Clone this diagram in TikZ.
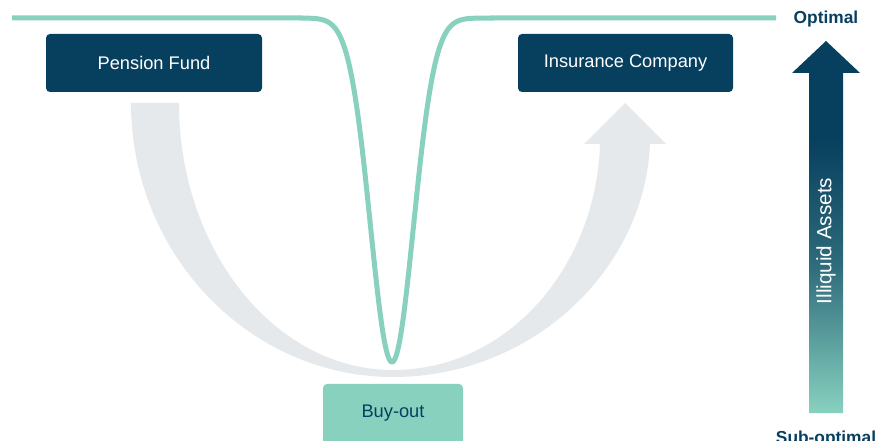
\documentclass[tikz,border=0pt]{standalone}
\usepackage{fontspec}
\setmainfont{Liberation Sans}
\definecolor{navy}{HTML}{073F5E}
\definecolor{mint}{HTML}{88D1BF}
\definecolor{mist}{HTML}{E6E9EC}
% vertical gradient: the middle 25bp..75bp maps onto the arrow's height
\pgfdeclareverticalshading{assetshade}{100bp}{color(0bp)=(mint); color(25bp)=(mint); color(45bp)=(navy!70!mint); color(62bp)=(navy); color(100bp)=(navy)}
\begin{document}
\begin{tikzpicture}[x=0.75pt, y=-0.75pt,
  boxtext/.style={font=\fontsize{13.7}{16}\selectfont},
  darkbox/.style={fill=navy, rounded corners=3pt},
  lightbox/.style={fill=mint, rounded corners=3pt},
  level/.style={text=navy, font=\bfseries\fontsize{13}{15}\selectfont},
  dip/.style={draw=mint, line width=3.75pt}]
\useasboundingbox (0,0) rectangle (892,441);
\clip (0,0) rectangle (892,441);

% broad grey flow from the pension fund to the insurer
\fill[mist] (131,103) .. controls (131,254) and (249,377) .. (393,377)
  .. controls (534,377) and (645,268) .. (650,144)
  -- (666,144) -- (625,103) -- (584,144) -- (600,144)
  .. controls (596,268) and (507,370) .. (393,370)
  .. controls (275,370) and (179,250) .. (179,103) -- cycle;

% funding level line with the dip at buy-out
\draw[dip] (12,18) -- (300,18)
  -- plot[domain=300:484, samples=160, smooth] (\x,{18+344*exp(-1*((\x-392)*(\x-392))/920)})
  -- (776,18);

% boxes
\path[darkbox] (46,34) rectangle (262,92);
\node[boxtext, text=white] (pension) at (154,63) {Pension Fund};
\path[darkbox] (518,34) rectangle (733,92);
\node[boxtext, text=white] (insurer) at (625.5,63) {Insurance Company};
\path[lightbox] (323,384) rectangle (463,450);
\node[boxtext, text=navy] (buyout) at (393,413) {Buy-out};

% illiquid assets scale
\shade[shading=assetshade] (809,413) -- (809,73) -- (792,73) -- (826,41) -- (860,73) -- (843,73) -- (843,413) -- cycle;
\node[text=white, rotate=90, font=\fontsize{15.5}{18}\selectfont] (assets) at (826,241) {Illiquid Assets};
\node[level] (optimal) at (826,19) {Optimal};
\node[level, anchor=north] (subopt) at (826,426) {Sub-optimal};
\end{tikzpicture}
\end{document}
